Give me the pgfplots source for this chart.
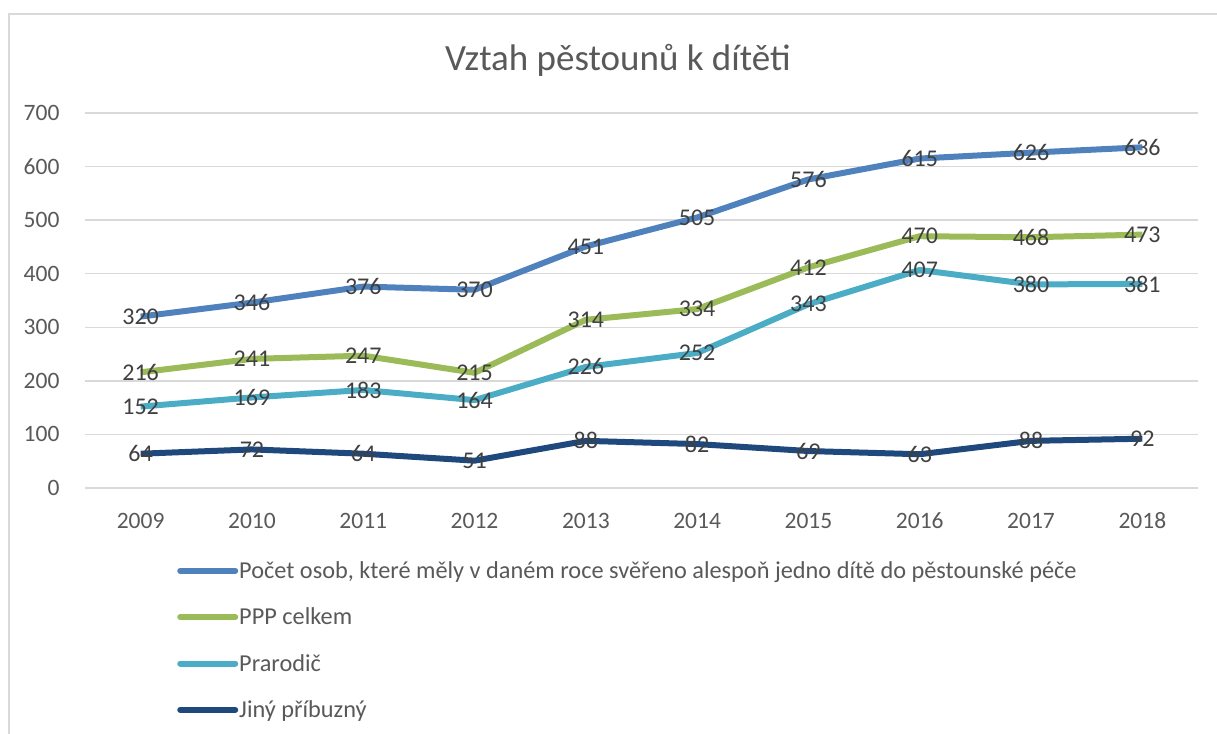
\documentclass[border=0pt]{standalone}
\usepackage{pgfplots}
\pgfplotsset{compat=1.18}
\usepackage{fontspec}
\setmainfont{Carlito}
\definecolor{s1}{HTML}{4F81BD}
\definecolor{s2}{HTML}{9BBB59}
\definecolor{s3}{HTML}{4BACC6}
\definecolor{s4}{HTML}{1F497D}
\definecolor{txt}{HTML}{595959}
\definecolor{lbl}{HTML}{404040}
\definecolor{gridc}{HTML}{D9D9D9}
\begin{document}
\begin{tikzpicture}[x=1pt,y=1pt]
\path[use as bounding box] (0,0) rectangle (1217,733);
\draw[gridc, line width=1.5pt] (9,-5) -- (9,719) -- (1230,719);
\node[txt, font=\fontsize{37}{44}\selectfont] at (618,673) {Vztah pěstounů k dítěti};
\begin{axis}[
  at={(85pt,245pt)}, anchor=south west,
  scale only axis, width=1113pt, height=375pt,
  xmin=2008.5, xmax=2018.5, ymin=0, ymax=700,
  xtick={2009,2010,2011,2012,2013,2014,2015,2016,2017,2018},
  ytick={0,100,200,300,400,500,600,700},
  /pgf/number format/assume math mode=true,
  /pgf/number format/1000 sep={},
  ymajorgrids, grid style={gridc, line width=1.5pt},
  axis line style={draw=none},
  major tick length=0pt,
  tick label style={txt, font=\fontsize{23.5}{28}\selectfont},
  xticklabel style={anchor=base, yshift=-41pt},
  yticklabel style={xshift=-22pt},
  clip=false,
  nodes near coords,
  every node near coord/.append style={anchor=center, lbl, font=\fontsize{24}{28}\selectfont},
  every axis plot/.append style={line width=6pt, line join=round, no marks},
  legend cell align=left,
  legend style={at={(0.0827,-0.193)}, anchor=north west, draw=none, fill=none,
    font=\fontsize{24.3}{28}\selectfont, text=txt, row sep=26pt, inner sep=0pt,
    nodes={inner sep=1pt}},
  legend image code/.code={\draw[#1, line width=6pt, line cap=round] (0pt,0pt) -- (55pt,0pt);},
]
\addplot[s1] coordinates {(2009,320) (2010,346) (2011,376) (2012,370) (2013,451) (2014,505) (2015,576) (2016,615) (2017,626) (2018,636)};
\addlegendentry{Počet osob, které měly v daném roce svěřeno alespoň jedno dítě do pěstounské péče}
\addplot[s2] coordinates {(2009,216) (2010,241) (2011,247) (2012,215) (2013,314) (2014,334) (2015,412) (2016,470) (2017,468) (2018,473)};
\addlegendentry{PPP celkem}
\addplot[s3] coordinates {(2009,152) (2010,169) (2011,183) (2012,164) (2013,226) (2014,252) (2015,343) (2016,407) (2017,380) (2018,381)};
\addlegendentry{Prarodič}
\addplot[s4] coordinates {(2009,64) (2010,72) (2011,64) (2012,51) (2013,88) (2014,82) (2015,69) (2016,63) (2017,88) (2018,92)};
\addlegendentry{Jiný příbuzný}
\end{axis}
\end{tikzpicture}
\end{document}
